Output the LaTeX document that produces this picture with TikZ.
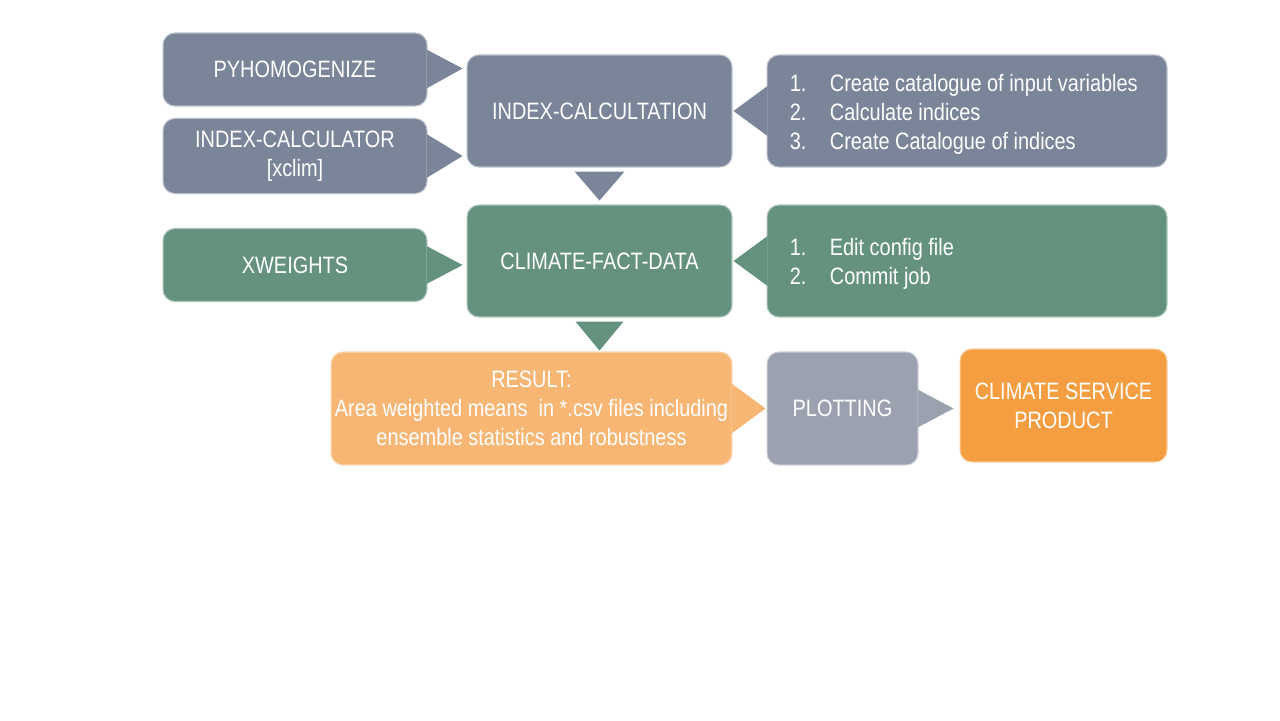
\documentclass[tikz,border=0pt]{standalone}
\usepackage{fontspec}
\setmainfont{Liberation Sans}[FakeStretch=0.84]
\usetikzlibrary{calc}
\definecolor{slate}{HTML}{7A8599}
\definecolor{sage}{HTML}{65917F}
\definecolor{peach}{HTML}{F7B674}
\definecolor{plotgray}{HTML}{9BA1AF}
\definecolor{orng}{HTML}{F59E41}
\tikzset{
  box/.style={rounded corners=0.24cm, draw=#1!55!white, line width=0.6pt, fill=#1,
    text=white, align=center, inner sep=0pt,
    font=\fontsize{13.5}{16.5}\selectfont},
  ptr/.style={fill=#1, draw=none},
  listtext/.style={anchor=west, text=white, align=left, inner sep=0pt,
    font=\fontsize{13.5}{16.5}\selectfont},
}
\begin{document}
\begin{tikzpicture}[x=0.02cm, y=-0.02cm]
\useasboundingbox (0,0) rectangle (1280,720);

% left inputs
\node[box=slate, minimum width=5.28cm, minimum height=1.46cm] (pyh) at (295,69.5) {PYHOMOGENIZE};
\node[box=slate, minimum width=5.28cm, minimum height=1.5cm] (icr) at (295,156) {INDEX-CALCULATOR\\{[xclim]}};
\node[box=sage, minimum width=5.28cm, minimum height=1.46cm] (xw) at (295,265) {XWEIGHTS};

% central
\node[box=slate, minimum width=5.3cm, minimum height=2.24cm] (idx) at (599.5,111) {INDEX-CALCULTATION};
\node[box=sage, minimum width=5.3cm, minimum height=2.24cm] (cfd) at (599.5,261) {CLIMATE-FACT-DATA};

% step boxes
\node[box=slate, minimum width=8cm, minimum height=2.24cm] (s1) at (967,111) {};
\node[listtext] (s1t) at ($(s1.west)+(23,3)$)
  {\makebox[0.8cm][l]{1.}Create catalogue of input variables\\
   \makebox[0.8cm][l]{2.}Calculate indices\\
   \makebox[0.8cm][l]{3.}Create Catalogue of indices};
\node[box=sage, minimum width=8cm, minimum height=2.24cm] (s2) at (967,261) {};
\node[listtext] (s2t) at ($(s2.west)+(23,3)$)
  {\makebox[0.8cm][l]{1.}Edit config file\\
   \makebox[0.8cm][l]{2.}Commit job};

% bottom row
\node[box=peach, minimum width=8.02cm, minimum height=2.26cm] (res) at (531.5,408.5)
  {RESULT:\\Area weighted means\ \ in *.csv files including\\ensemble statistics and robustness};
\node[box=plotgray, minimum width=3.02cm, minimum height=2.26cm] (plt) at (842.5,408.5) {PLOTTING};
\node[box=orng, minimum width=4.14cm, minimum height=2.26cm] (csp) at (1063.5,405.5) {CLIMATE SERVICE\\PRODUCT};

% pointers
\fill[ptr=slate] ($(pyh.east)+(-1,-20)$) -- ($(pyh.east)+(35,-1)$) -- ($(pyh.east)+(-1,19)$) -- cycle;
\fill[ptr=slate] ($(icr.east)+(-1,-22)$) -- ($(icr.east)+(35,0)$) -- ($(icr.east)+(-1,22)$) -- cycle;
\fill[ptr=sage] ($(xw.east)+(-1,-19)$) -- ($(xw.east)+(35,0)$) -- ($(xw.east)+(-1,19)$) -- cycle;
\fill[ptr=slate] ($(s1.west)+(1,-25)$) -- ($(s1.west)+(-33,0)$) -- ($(s1.west)+(1,25)$) -- cycle;
\fill[ptr=sage] ($(s2.west)+(1,-25)$) -- ($(s2.west)+(-33,0)$) -- ($(s2.west)+(1,25)$) -- cycle;
\fill[ptr=slate] ($(idx.south)+(-25,4)$) -- ($(idx.south)+(0,33)$) -- ($(idx.south)+(25,4)$) -- cycle;
\fill[ptr=sage] ($(cfd.south)+(-24,4)$) -- ($(cfd.south)+(0,33)$) -- ($(cfd.south)+(24,4)$) -- cycle;
\fill[ptr=peach] ($(res.east)+(-1,-25)$) -- ($(res.east)+(33,0)$) -- ($(res.east)+(-1,25)$) -- cycle;
\fill[ptr=plotgray] ($(plt.east)+(-1,-19)$) -- ($(plt.east)+(35,0)$) -- ($(plt.east)+(-1,19)$) -- cycle;
\end{tikzpicture}
\end{document}
